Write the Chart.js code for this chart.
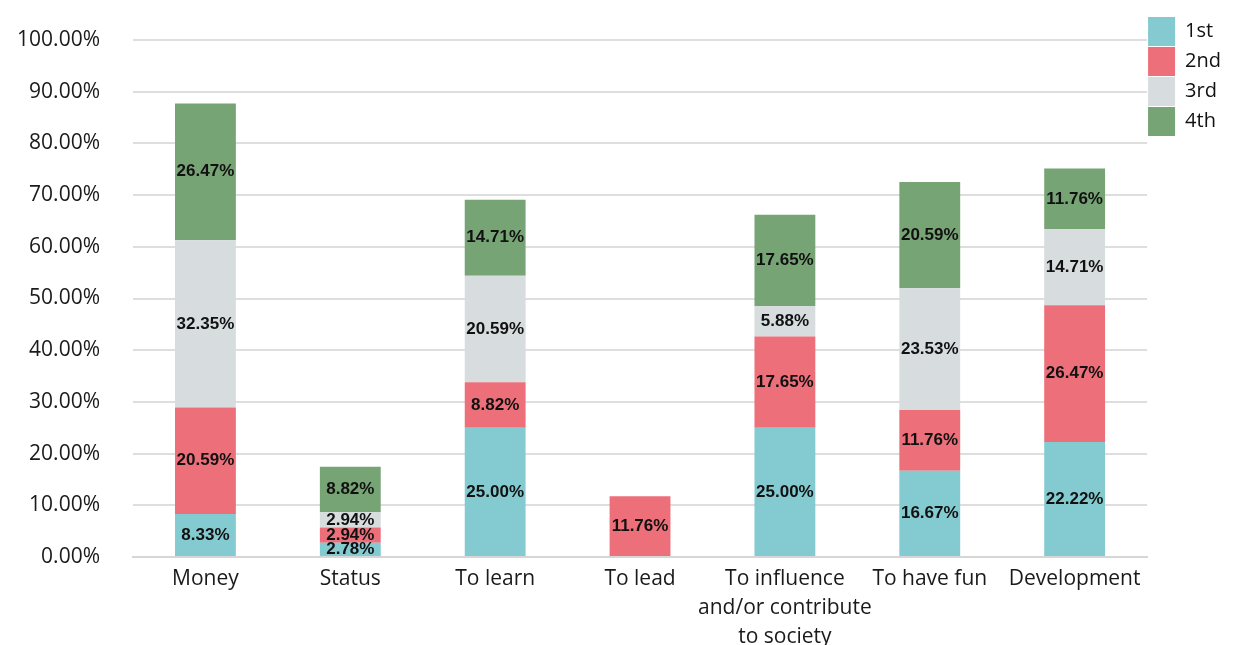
<!DOCTYPE html>
<html>
<head>
<meta charset="utf-8">
<script src="https://cdn.jsdelivr.net/npm/chart.js@4.4.1/dist/chart.umd.min.js"></script>
<style>
  html, body { margin: 0; padding: 0; background: #fff; }
</style>
</head>
<body>
<canvas id="myChart" width="1243" height="645"></canvas>
<script>
let categories = [
    'Money',
    'Status',
    'To learn',
    'To lead',
    ['To influence', 'and/or contribute', 'to society'],
    'To have fun',
    'Development'
];

let seriesNames = ['1st', '2nd', '3rd', '4th'];

let first  = [8.33, 2.78, 25.00, 0, 25.00, 16.67, 22.22];
let second = [20.59, 2.94, 8.82, 11.76, 17.65, 11.76, 26.47];
let third  = [32.35, 2.94, 20.59, 0, 5.88, 23.53, 14.71];
let fourth = [26.47, 8.82, 14.71, 0, 17.65, 20.59, 11.76];

let colors = ['#84CAD1', '#EC6F79', '#D7DCDF', '#77A474'];

let allSeries = [first, second, third, fourth];

// draws the percentage inside each segment
const barLabels = {
    id: 'barLabels',
    afterDatasetsDraw(chart) {
        const ctx = chart.ctx;
        ctx.save();
        ctx.font = 'bold 17px "Liberation Sans", Arial, sans-serif';
        ctx.fillStyle = '#111';
        ctx.textAlign = 'center';
        ctx.textBaseline = 'middle';
        chart.data.datasets.forEach((ds, i) => {
            chart.getDatasetMeta(i).data.forEach((bar, j) => {
                const v = ds.data[j];
                if (!v) return;
                const p = bar.getProps(['x', 'y', 'base'], true);
                ctx.fillText(v.toFixed(2) + '%', p.x, (p.y + p.base) / 2);
            });
        });
        ctx.restore();
    }
};

let myChart = document.getElementById('myChart').getContext('2d');

let chart = new Chart(myChart, {
    type: 'bar',
    data: {
        labels: categories,
        datasets: allSeries.map((d, i) => ({
            label: seriesNames[i],
            data: d,
            backgroundColor: colors[i],
            barPercentage: 0.42,
            categoryPercentage: 1
        }))
    },
    options: {
        responsive: false,
        animation: false,
        layout: {
            padding: { left: 12, right: 12, top: 16, bottom: 0 }
        },
        scales: {
            x: {
                stacked: true,
                grid: { display: false },
                border: { color: '#d6d6d6', width: 2 },
                afterFit: s => { s.height = 88; },
                ticks: {
                    color: '#1a1a1a',
                    padding: 0,
                    maxRotation: 0,
                    autoSkip: false,
                    font: { family: '"Open Sans", sans-serif', size: 21, lineHeight: 1.38 }
                }
            },
            y: {
                stacked: true,
                min: 0,
                max: 100,
                grid: { color: '#dedede', lineWidth: 2, drawTicks: false },
                border: { display: false },
                afterFit: s => { s.paddingTop = 40; s.width = 121; },
                ticks: {
                    stepSize: 10,
                    color: '#1a1a1a',
                    padding: 33,
                    font: { family: '"Open Sans", sans-serif', size: 21 },
                    callback: v => v.toFixed(2) + '%'
                }
            }
        },
        plugins: {
            legend: {
                display: true,
                position: 'right',
                align: 'start',
                labels: {
                    boxWidth: 27,
                    boxHeight: 29,
                    padding: 1,
                    color: '#111',
                    font: { family: '"Open Sans", sans-serif', size: 20 }
                }
            },
            tooltip: { enabled: false }
        }
    },
    plugins: [barLabels]
});
</script>
</body>
</html>
